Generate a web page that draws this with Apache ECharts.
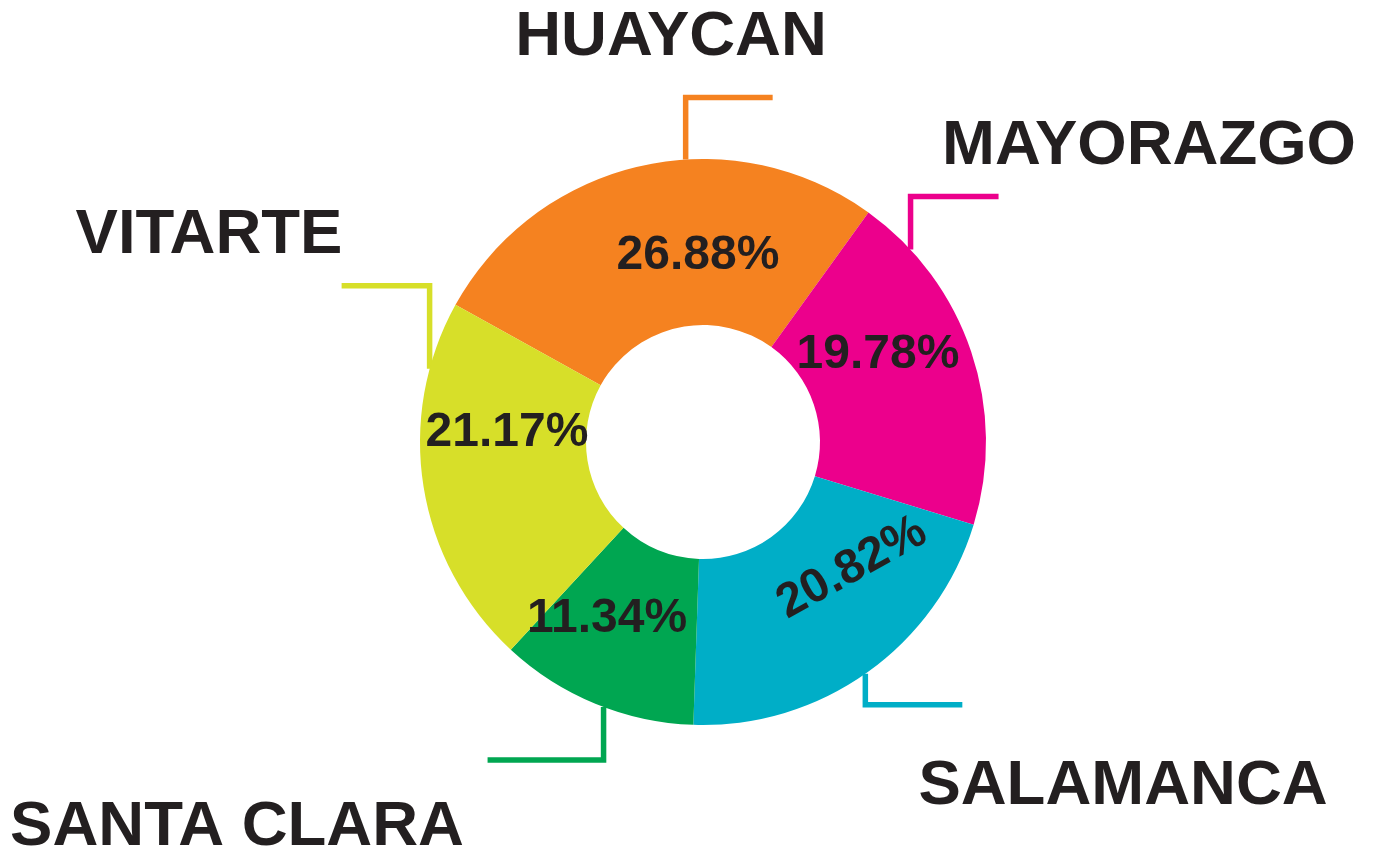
<!DOCTYPE html>
<html>
<head>
<meta charset="utf-8">
<script src="https://cdn.jsdelivr.net/npm/echarts@6/dist/echarts.min.js"></script>
<style>
  html, body { margin: 0; padding: 0; background: #fff; }
  #main { width: 1374px; height: 851px; }
</style>
</head>
<body>
<div id="main"></div>
<script>
// data
var zonas = ['HUAYCAN', 'MAYORAZGO', 'SALAMANCA', 'SANTA CLARA', 'VITARTE'];
var porcentajes = [26.88, 19.78, 20.82, 11.34, 21.17];
var colores = ['#f58220', '#ec008c', '#00aec7', '#00a651', '#d7df29'];

// layout / style
var CX = 703, CY = 442, R0 = 117, R = 283, START = 151;
var texto = '#231f20';
var fuente = '"Liberation Sans", Arial, Helvetica, sans-serif';

// centre of each name label
var posNombre = [[671, 37], [1149, 146], [1123, 786], [237, 827], [209, 235]];
// lead line: [where on the slice arc (0..1), vertical run, horizontal run]
var guia = [[0.594, -62, 87], [0.16, -53, 88], [0.507, 31, 97], [0.456, 53, -116], [0.816, -83, -88]];
// centre of each percentage label and its rotation
var posPct = [[698, 256], [878, 355], [852, 568], [607, 619], [507, 433]];
var rotPct = [0, 0, 29, 0, 0];

var total = porcentajes.reduce(function (a, b) { return a + b; }, 0);

function angulos(i) {
  var antes = 0;
  for (var k = 0; k < i; k++) antes += porcentajes[k];
  var a0 = START - antes / total * 360;
  return [a0, a0 - porcentajes[i] / total * 360];
}

var datosPct = zonas.map(function (n, i) {
  return { name: n, value: porcentajes[i], itemStyle: { color: colores[i] } };
});
var datosNombre = zonas.map(function (n, i) {
  return {
    name: n,
    value: porcentajes[i],
    itemStyle: { color: 'rgba(0,0,0,0)' },
    labelLine: { lineStyle: { color: colores[i] } }
  };
});

var chart = echarts.init(document.getElementById('main'));
chart.setOption({
  animation: false,
  backgroundColor: '#fff',
  series: [
    {
      type: 'pie',
      center: [CX, CY],
      radius: [R0, R],
      startAngle: START,
      clockwise: true,
      avoidLabelOverlap: false,
      emphasis: { disabled: true },
      itemStyle: { borderWidth: 0 },
      label: {
        show: true,
        position: 'inside',
        formatter: function (p) { return p.value.toFixed(2) + '%'; },
        fontSize: 48,
        fontWeight: 'bold',
        fontFamily: fuente,
        color: texto
      },
      labelLine: { show: false },
      labelLayout: function (p) {
        var i = p.dataIndex;
        return {
          x: posPct[i][0],
          y: posPct[i][1],
          align: 'center',
          verticalAlign: 'middle',
          rotate: rotPct[i]
        };
      },
      data: datosPct
    },
    {
      type: 'pie',
      silent: true,
      center: [CX, CY],
      radius: [R0, R],
      startAngle: START,
      clockwise: true,
      avoidLabelOverlap: false,
      emphasis: { disabled: true },
      label: {
        show: true,
        position: 'outside',
        formatter: '{b}',
        fontSize: 63.5,
        fontWeight: 'bold',
        fontFamily: fuente,
        color: texto,
        overflow: 'none'
      },
      labelLine: { show: true, length: 20, length2: 20, lineStyle: { width: 5.5 } },
      labelLayout: function (p) {
        var i = p.dataIndex;
        var a = angulos(i);
        var ang = (a[0] - guia[i][0] * (a[0] - a[1])) * Math.PI / 180;
        var ax = CX + R * Math.cos(ang);
        var ay = CY - R * Math.sin(ang);
        var y2 = ay + guia[i][1];
        return {
          x: posNombre[i][0],
          y: posNombre[i][1],
          align: 'center',
          verticalAlign: 'middle',
          labelLinePoints: [[ax, ay], [ax, y2], [ax + guia[i][2], y2]]
        };
      },
      data: datosNombre
    }
  ]
});
</script>
</body>
</html>
